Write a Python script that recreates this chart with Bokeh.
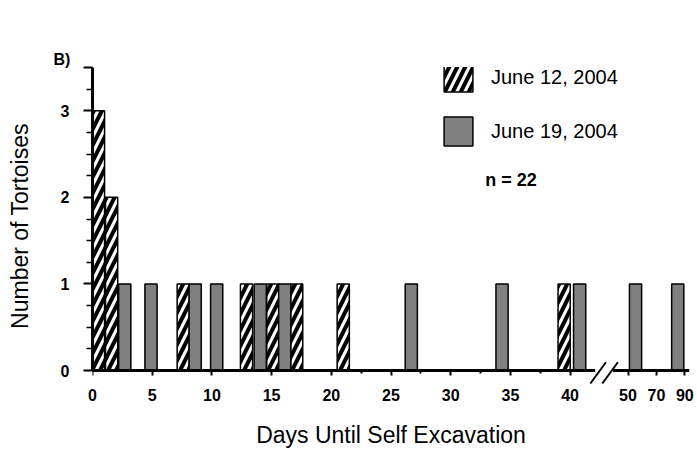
from bokeh.plotting import figure
from bokeh.models import (FixedTicker, Legend, LegendItem, Label, LinearAxis,
                          ColumnDataSource, Title)
from bokeh.embed import file_html
from bokeh.resources import INLINE

# ---------------- data ----------------
series_names = ["June 12, 2004", "June 19, 2004"]
june12_days = [0.5, 1.6, 7.6, 12.9, 15.1, 17.1, 21.0, 39.5]
june12_counts = [3, 2, 1, 1, 1, 1, 1, 1]
june19_days = [2.7, 4.9, 8.6, 10.4, 14.05, 16.1, 26.7, 34.3, 40.8, 55.3, 85.0]
june19_counts = [1, 1, 1, 1, 1, 1, 1, 1, 1, 1, 1]
x_tick_days = [0, 5, 10, 15, 20, 25, 30, 35, 40, 50, 70, 90]
x_minor_days = [22.5, 27.5, 32.5, 37.5]
y_ticks = [0, 1, 2, 3]
y_top = 3.5
n_text = "n = 22"
panel_tag = "B)"

# axis break: days up to 41.5 drawn linearly, later days compressed
LINEAR_LIMIT = 41.5
AFTER_BREAK_AT50 = 44.85
AFTER_BREAK_SLOPE = 0.119
BREAK_POS = 42.85


def axis_pos(d):
    if d <= LINEAR_LIMIT:
        return d
    return AFTER_BREAK_AT50 + (d - 50) * AFTER_BREAK_SLOPE


FONT = "Liberation Sans"
Y0 = -0.1617

p = figure(width=697, height=454, x_range=(0, 50), y_range=(Y0, y_top),
           output_backend="svg", toolbar_location=None,
           min_border_left=92, min_border_right=8, min_border_top=67,
           min_border_bottom=70)
p.outline_line_color = None
p.xgrid.grid_line_color = None
p.ygrid.grid_line_color = None
p.background_fill_color = "white"
p.border_fill_color = "white"
p.title.text = ""

xa = p.below[0]   # the default x axis (line and ticks at y = 0)
ya = p.left[0]    # the default y axis

# empty spacer row between the frame and the panel tag
spacer = LinearAxis(ticker=FixedTicker(ticks=[]), axis_line_color=None,
                    major_tick_out=42, major_tick_in=0, minor_tick_out=0,
                    minor_tick_in=0, major_tick_line_color="white",
                    minor_tick_line_color=None, major_label_standoff=0,
                    axis_label_standoff=0)
p.add_layout(spacer, "above")

# panel tag, above the spacer
p.add_layout(Title(text=panel_tag, align="left", offset=-39, standoff=0,
                   text_font=FONT, text_font_size="16px",
                   text_font_style="bold", text_color="black"), "above")

src12 = ColumnDataSource(dict(x=[axis_pos(d) for d in june12_days], top=june12_counts))
src19 = ColumnDataSource(dict(x=[axis_pos(d) for d in june19_days], top=june19_counts))

r12 = p.vbar(x="x", top="top", bottom=0, width=1.02, source=src12,
             fill_color="white", line_color="black", line_width=1.5,
             hatch_pattern="/", hatch_color="black", hatch_scale=16,
             hatch_weight=4)
r19 = p.vbar(x="x", top="top", bottom=0, width=1.02, source=src19,
             fill_color="#808080", line_color="black", line_width=1.5)

# ---------------- y axis ----------------
minor = [t / 4 for t in range(1, 14) if t % 4 != 0]
ya.ticker = FixedTicker(ticks=y_ticks + [y_top], minor_ticks=minor)
ya.major_label_overrides = {y_top: ""}
ya.bounds = (0, y_top)
ya.axis_line_width = 3
ya.axis_line_color = "black"
ya.major_tick_out = 9
ya.major_tick_in = 0
ya.major_tick_line_width = 2
ya.minor_tick_out = 6
ya.minor_tick_in = 0
ya.minor_tick_line_width = 1.5
ya.major_label_standoff = 14
ya.major_label_text_font = FONT
ya.major_label_text_font_size = "16px"
ya.major_label_text_font_style = "bold"
ya.major_label_text_color = "black"
ya.axis_label = "Number of Tortoises"
ya.axis_label_text_font = FONT
ya.axis_label_text_font_size = "23px"
ya.axis_label_text_font_style = "normal"
ya.axis_label_text_color = "black"
ya.axis_label_standoff = 25

# ---------------- x axis line + ticks, drawn at y = 0 ----------------
tick_pos = [axis_pos(d) for d in x_tick_days]
xa.ticker = FixedTicker(ticks=tick_pos, minor_ticks=x_minor_days)
xa.major_label_overrides = {tp: "" for tp in tick_pos}
xa.major_label_text_font_size = "0px"
xa.fixed_location = 0
xa.axis_line_width = 3
xa.axis_line_color = "black"
xa.major_tick_out = 5
xa.major_tick_in = 0
xa.major_tick_line_width = 2
xa.minor_tick_out = 3
xa.minor_tick_in = 0
xa.minor_tick_line_width = 2

# tick labels and title of the x axis, at the frame bottom
xl = LinearAxis(ticker=FixedTicker(ticks=tick_pos), axis_line_color=None,
                major_tick_out=0, major_tick_in=0, minor_tick_out=0,
                minor_tick_in=0, major_label_standoff=4,
                major_label_overrides={tp: str(d) for tp, d in zip(tick_pos, x_tick_days)},
                major_label_text_font=FONT, major_label_text_font_size="16px",
                major_label_text_font_style="bold",
                major_label_text_color="black",
                axis_label="Days Until Self Excavation",
                axis_label_text_font=FONT, axis_label_text_font_size="23px",
                axis_label_text_font_style="normal",
                axis_label_text_color="black", axis_label_standoff=18)
p.add_layout(xl, "below")

# ---------------- axis break marks ----------------
p.quad(left=[BREAK_POS - 0.75], right=[BREAK_POS + 0.75],
       bottom=[-0.03], top=[0.03], fill_color="white", line_color=None,
       level="overlay")
for off in (-0.5, 0.5):
    p.segment(x0=[BREAK_POS + off - 0.65], y0=[-0.15],
              x1=[BREAK_POS + off + 0.65], y1=[0.095],
              line_color="black", line_width=2, level="overlay")

# ---------------- legend ----------------
legend = Legend(items=[LegendItem(label=series_names[0], renderers=[r12]),
                       LegendItem(label=series_names[1], renderers=[r19])],
                location=(348, 235), orientation="vertical",
                glyph_width=36, glyph_height=36, spacing=18, padding=0,
                margin=0, label_standoff=15, label_text_font=FONT,
                label_text_font_size="20px", label_text_color="black",
                border_line_color=None, background_fill_alpha=0)
p.add_layout(legend)

p.add_layout(Label(x=32.9, y=2.195, text=n_text, text_font=FONT,
                   text_font_size="18px", text_font_style="bold",
                   text_baseline="middle", text_color="black"))

open("out.html", "w").write(file_html(p, INLINE))
